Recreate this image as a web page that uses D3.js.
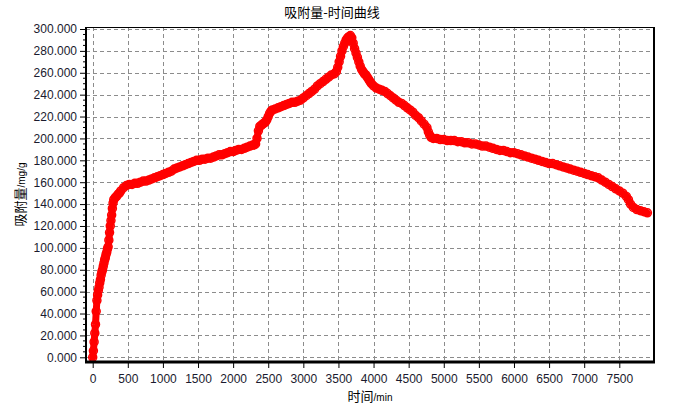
<!DOCTYPE html>
<html><head><meta charset="utf-8">
<script src="https://cdn.jsdelivr.net/npm/d3@7/dist/d3.min.js"></script>
<style>body{margin:0;background:#fff}svg{display:block}</style>
</head><body>
<svg id="c" width="687" height="411"></svg>
<script>
const title = "吸附量-时间曲线";
const xTicks = [0,500,1000,1500,2000,2500,3000,3500,4000,4500,5000,5500,6000,6500,7000,7500];
const yTicks = [0,20,40,60,80,100,120,140,160,180,200,220,240,260,280,300];
const times = [
 0,10,20,30,40,50,60,70,80,90,100,110,120,130,140,150,160,170,180,190,200,210,220,230,240,250,260,270,280,290,300,
 320,340,360,380,400,440,480,520,560,600,640,680,720,760,800,840,880,920,960,1000,
 1040,1080,1120,1160,1200,1240,1280,1320,1360,1400,1440,1480,1520,1560,1600,1640,1680,1720,1760,1800,1840,1880,1920,1960,2000,
 2040,2080,2120,2160,2200,2240,2280,2300,
 2320,2340,2360,2380,2400,2420,2440,2460,2480,2500,2520,2540,2560,2600,2640,2680,2720,2760,2800,2840,2880,2920,2960,3000,
 3040,3080,3120,3160,3200,3240,3280,3320,3360,3400,3440,3470,3490,3510,3530,3550,3570,3590,3610,3630,3650,3670,
 3690,3710,3730,3750,3770,3790,3810,3830,3850,3870,3890,3910,3930,3950,3970,4000,
 4040,4080,4120,4160,4200,4240,4280,4320,4360,4400,4440,4480,4520,4560,4600,4640,4680,4720,4760,4780,4800,4820,4850,
 4900,4950,5000,5050,5100,5150,5200,5250,5300,5350,5400,5450,5500,5550,5600,5650,5700,5750,5800,5850,5900,5950,6000,
 6050,6100,6150,6200,6250,6300,6350,6400,6450,6500,6550,6600,6650,6700,6750,6800,6850,6900,6950,7000,
 7050,7100,7150,7200,7250,7300,7350,7400,7450,7500,7550,7600,7630,7660,7700,7750,7800,7850,7900
];
const values = [
 0,6,14,22,30,42,52,57,61,64,68,71,75,78,80,83,86,89,91,94,96,99,101,107,114,120,125,130,136,141,144,
 146,147,149,150,152,155,157,158,158,159,159,160,161,161,162,163,164,165,166,167,
 168,169,170,172,173,174,175,176,177,178,179,180,180,181,181,182,182,183,184,185,185,186,187,188,188,
 189,190,190,191,192,193,194,194,
 195,200,207,211,212,213,214,215,217,220,223,225,226,227,228,229,230,231,232,233,233,234,235,237,
 239,241,243,245,248,250,252,254,256,258,259,261,265,270,275,280,284,287,290,292,293,294,
 292,287,282,278,274,270,266,263,261,259,258,256,254,252,250,248,
 246,245,244,243,241,239,237,235,233,232,230,228,226,224,221,219,216,213,210,206,203,201,200,
 200,199,199,198,198,198,197,197,196,196,195,195,194,193,193,192,191,190,189,189,188,187,187,
 186,185,184,183,182,181,180,179,178,177,177,176,175,174,173,172,171,170,169,168,
 167,166,165,164,162,160,158,156,154,152,150,147,144,140,137,135,134,133,132
];

const svg = d3.select("#c");
const L = 86, R = 654, T = 27, B = 362;
const x = d3.scaleLinear().domain([0, 7500]).range([92.7, 619.3]);
const y = d3.scaleLinear().domain([0, 300]).range([357.3, 29]);
const data = times.map((t, i) => ({t, v: values[i]}));

svg.append("clipPath").attr("id", "clip").append("rect")
  .attr("x", L).attr("y", T).attr("width", R - L).attr("height", B - T);

// grid
const grid = svg.append("g").attr("stroke", "#8c8c8c").attr("stroke-width", 1)
  .attr("stroke-dasharray", "4,3").attr("shape-rendering", "crispEdges");
grid.selectAll("line.v").data(xTicks).join("line").attr("class", "v")
  .attr("x1", d => Math.round(x(d)) + 0.5).attr("x2", d => Math.round(x(d)) + 0.5)
  .attr("y1", T).attr("y2", B);
grid.selectAll("line.h").data(yTicks).join("line").attr("class", "h")
  .attr("x1", L).attr("x2", R)
  .attr("y1", d => Math.round(y(d)) + 0.5).attr("y2", d => Math.round(y(d)) + 0.5);

// series
const plot = svg.append("g").attr("clip-path", "url(#clip)");
plot.append("path").datum(data)
  .attr("fill", "none").attr("stroke", "#ff0000").attr("stroke-width", 7)
  .attr("stroke-linejoin", "round").attr("stroke-linecap", "round")
  .attr("d", d3.line().x(d => x(d.t)).y(d => y(d.v)));
plot.selectAll("circle").data(data).join("circle")
  .attr("cx", d => x(d.t)).attr("cy", d => y(d.v)).attr("r", 4)
  .attr("fill", "none").attr("stroke", "#ff0000").attr("stroke-width", 1.5);

// frame
svg.append("rect").attr("x", L + 0.5).attr("y", T + 0.5).attr("width", R - L - 1).attr("height", B - T - 1)
  .attr("fill", "none").attr("stroke", "#000").attr("stroke-width", 1);
svg.append("line").attr("x1", L - 1).attr("x2", R + 1).attr("y1", B).attr("y2", B)
  .attr("stroke", "#000").attr("stroke-width", 3);
svg.append("line").attr("x1", L).attr("x2", L).attr("y1", T).attr("y2", B)
  .attr("stroke", "#000").attr("stroke-width", 2);
svg.append("line").attr("x1", R).attr("x2", R).attr("y1", T).attr("y2", B)
  .attr("stroke", "#000").attr("stroke-width", 2);

// axes
const font = "'Liberation Sans', Arial, sans-serif";
const yAxis = d3.axisLeft(y).tickValues(yTicks).tickFormat(d3.format(".3f")).tickSize(5).tickPadding(3);
const gy = svg.append("g").attr("transform", `translate(${L - 1},0)`).call(yAxis);
gy.select(".domain").remove();
gy.selectAll("text").attr("font-family", font).attr("font-size", 12).attr("fill", "#1a1a2e");
const yMinor = d3.range(0, 301, 5).filter(v => v % 20 !== 0);
svg.append("g").selectAll("line").data(yMinor).join("line")
  .attr("x1", L - 3).attr("x2", L - 1).attr("y1", d => y(d)).attr("y2", d => y(d))
  .attr("stroke", "#000");

const xAxis = d3.axisBottom(x).tickValues(xTicks).tickFormat(d3.format("d")).tickSize(5).tickPadding(6);
const gx = svg.append("g").attr("transform", `translate(0,${B + 1})`).call(xAxis);
gx.select(".domain").remove();
gx.selectAll("text").attr("font-family", font).attr("font-size", 12).attr("fill", "#1a1a2e");

// titles
svg.append("text").attr("x", 332).attr("y", 17).attr("text-anchor", "middle")
  .attr("font-family", "'Noto Sans CJK SC', sans-serif").attr("font-size", 13).attr("fill", "#000")
  .text(title);
const xt = svg.append("text").attr("x", (L + R) / 2).attr("y", 401).attr("text-anchor", "middle")
  .attr("font-family", "'Noto Sans CJK SC', sans-serif").attr("fill", "#000");
xt.append("tspan").attr("font-size", 13).text("时间");
xt.append("tspan").attr("font-size", 10).attr("font-family", font).text("/min");
const yt = svg.append("text").attr("transform", `translate(25,${(T + B) / 2}) rotate(-90)`)
  .attr("text-anchor", "middle").attr("font-family", "'Noto Sans CJK SC', sans-serif").attr("fill", "#000");
yt.append("tspan").attr("font-size", 13).text("吸附量");
yt.append("tspan").attr("font-size", 10).attr("font-family", font).text("/mg/g");
</script>
</body></html>
